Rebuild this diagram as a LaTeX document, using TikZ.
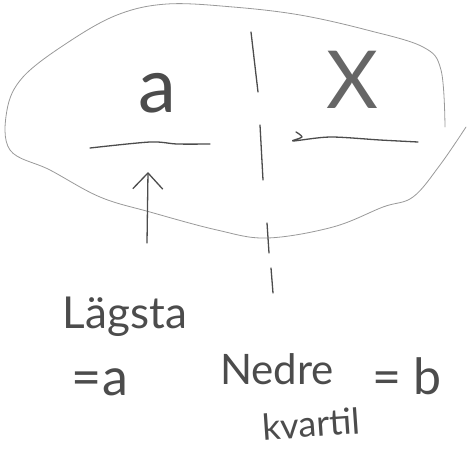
\documentclass[tikz,border=0pt]{standalone}
\usepackage{fontspec}
\setmainfont{Lato}
\usetikzlibrary{arrows.meta}

\tikzset{
  pen/.style={draw=black!70, line width=1.3pt, line cap=round, line join=round},
  blobline/.style={draw=black!40, line width=0.8pt, line cap=round},
  hand/.style={text=black!70, inner sep=0pt, anchor=base},
}

\begin{document}
\begin{tikzpicture}[x=1pt,y=-1pt]
\useasboundingbox (0,0) rectangle (469,450);
\draw[blobline] plot[smooth, tension=0.6] coordinates {(445,127) (441,70) (423,47) (367,30) (300,15) (233,7) (167,4) (117,15) (67,43) (23,77) (7,110) (10,150) (50,170) (100,197) (150,212) (217,230) (267,238) (333,227) (383,207) (413,197) (440,165) (466,127)};
\foreach \ya/\yb/\xa/\xb in {32/92/251/258, 125/180/260/263, 223/253/267/269, 268/293/271/273}{
  \draw[pen] (\xa,\ya) -- (\xb,\yb);
}
\draw[pen] plot[smooth] coordinates {(90,148) (150,142) (177,144) (210,144)};
\draw[pen] plot[smooth] coordinates {(296,132) (302,137) (293,141) (330,137) (380,140) (418,142)};
\node[hand, font=\fontsize{76}{80}\selectfont] (alow) at (157,112) {a};
\node[hand, text=black!60, font=\fontsize{80}{86}\selectfont] (xval) at (352,108) {X};
\coordinate (arrowtail) at (147,243);
\coordinate (arrowtip) at (148,172);
\draw[pen,-{Straight Barb[length=16pt,width=30pt]}] (arrowtail) -- (arrowtip);
\node[hand, font=\fontsize{44}{50}\selectfont] (lagsta) at (125,328) {Lägsta};
\node[hand, font=\fontsize{52}{50}\selectfont] (eqa) at (100,395) {=a};
\node[hand, font=\fontsize{42}{50}\selectfont] (nedre) at (277,384) {Nedre};
\node[hand, rotate=4, font=\fontsize{36}{50}\selectfont] (kvartil) at (312,437) {kvartil};
\node[hand, font=\fontsize{50}{50}\selectfont] (eqb) at (407,394) {= b};
\end{tikzpicture}
\end{document}
